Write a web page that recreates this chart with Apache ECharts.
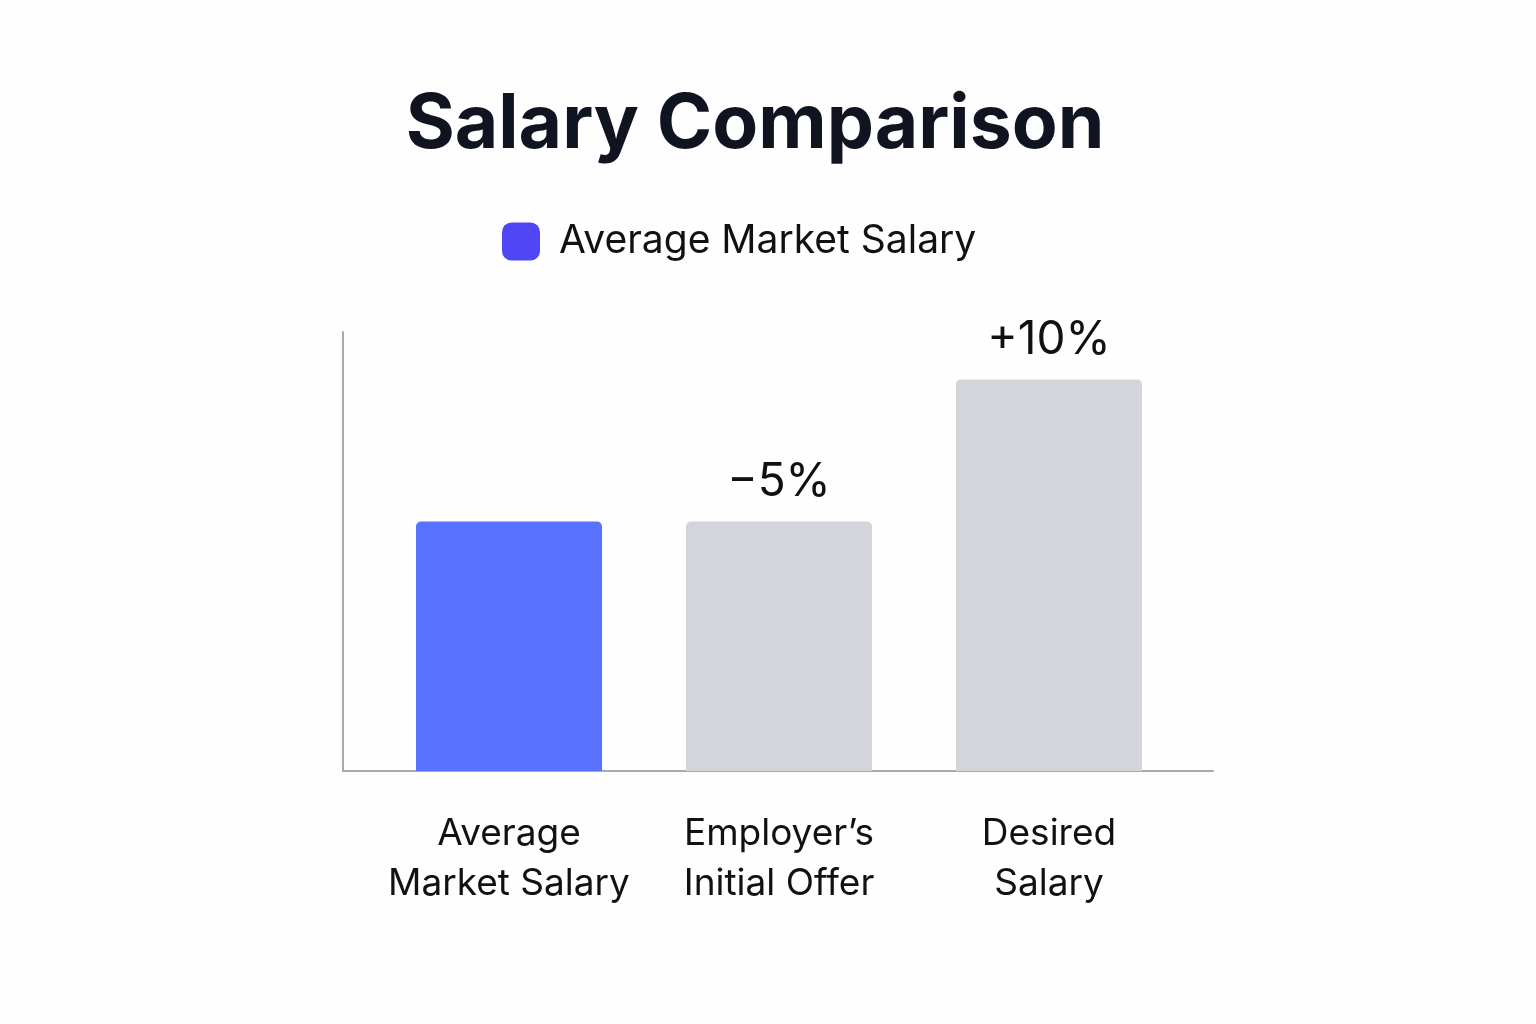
<!DOCTYPE html>
<html><head><meta charset="utf-8">
<script src="https://cdn.jsdelivr.net/npm/echarts@6/dist/echarts.min.js"></script>
<style>html,body{margin:0;background:#fefefe}#c{width:1536px;height:1024px}</style>
</head><body><div id="c"></div>
<script>
const categories = ['Average\nMarket Salary', 'Employer\u2019s\nInitial Offer', 'Desired\nSalary'];
const values = [100, 100, 157];
const barLabels = ['', '\u22125%', '+10%'];
const barColors = ['#5672FF', '#D4D5DA', '#D4D5DA'];
const chart = echarts.init(document.getElementById('c'));
const axisLn = { show: true, lineStyle: { color: '#a9a9b2', width: 2 } };
chart.setOption({
  backgroundColor: '#fefefe',
  title: { text: 'Salary Comparison', left: 750, top: 83, textAlign: 'center',
    textStyle: { fontFamily: 'Inter', fontSize: 75, fontWeight: 'bold', color: '#0f1420' } },
  legend: { data: ['Average Market Salary'], left: 497, top: 217, itemWidth: 38, itemHeight: 38,
    textStyle: { fontFamily: 'Inter', fontSize: 39, color: '#111', padding: [0, 0, 0, 14] },
    itemStyle: { color: '#5046F5', borderRadius: 4 } },
  grid: [
    { left: 374, right: 352, top: 332, bottom: 253 },
    { left: 343, right: 323, top: 332, bottom: 253 }
  ],
  xAxis: [
    { type: 'category', data: categories, gridIndex: 0,
      axisLine: { show: false }, axisTick: { show: false },
      axisLabel: { interval: 0, fontFamily: 'Inter', fontSize: 37, color: '#111', lineHeight: 50, margin: 38 } },
    { type: 'value', gridIndex: 1, min: 0, max: 1, axisLine: axisLn, axisTick: { show: false },
      axisLabel: { show: false }, splitLine: { show: false } }
  ],
  yAxis: [
    { type: 'value', gridIndex: 0, min: 0, max: 176, splitLine: { show: false }, axisLabel: { show: false },
      axisLine: { show: false }, axisTick: { show: false } },
    { type: 'value', gridIndex: 1, min: 0, max: 1, axisLine: axisLn, axisTick: { show: false },
      axisLabel: { show: false }, splitLine: { show: false } }
  ],
  series: [{ name: 'Average Market Salary', type: 'bar', barWidth: 186, xAxisIndex: 0, yAxisIndex: 0,
    data: values.map((v, i) => ({ value: v, itemStyle: { color: barColors[i], borderRadius: [5,5,0,0] } })),
    label: { show: true, position: 'top', distance: 16, fontFamily: 'Inter', fontSize: 46, color: '#111',
      formatter: p => barLabels[p.dataIndex] } }]
});
</script></body></html>
